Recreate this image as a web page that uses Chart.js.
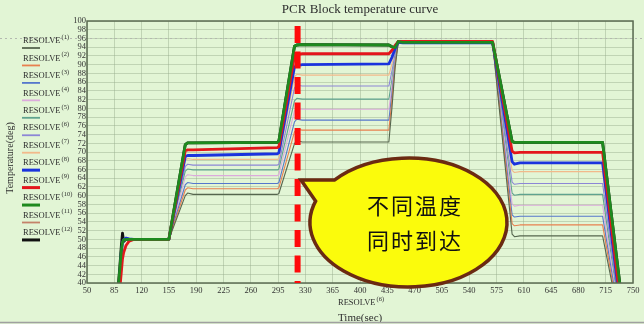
<!DOCTYPE html>
<html>
<head>
<meta charset="utf-8">
<script src="https://cdn.jsdelivr.net/npm/chart.js@4.4.0/dist/chart.umd.min.js"></script>
<style>
html, body { margin: 0; padding: 0; background: #e2f5d5; }
canvas { display: block; }
</style>
</head>
<body>
<canvas id="chart" width="644" height="324"></canvas>
<script>
// time points (sec) shared by every RESOLVE trace
const times = [89, 92, 94, 95.5, 97, 100, 104, 110, 155, 176, 179, 186, 294, 296, 316, 319, 326, 437, 441, 445, 449, 455, 570, 595, 598, 605, 711, 723, 733];

const resolve1 = [37, 42, 47.5, 49.8, 50.1, 50, 50, 50, 50, 60.0, 60.6, 60.3, 60.3, 60.5, 71.9, 72.6, 72.3, 72.3, 80.2, 89.3, 95.1, 95.0, 95.0, 51.2, 50.6, 50.8, 50.8, 40.0, 31.0];
const resolve2 = [37, 41.5, 47, 49.5, 50.0, 50, 50, 50, 50, 61.3, 61.8, 61.6, 61.6, 61.8, 74.6, 75.2, 75.0, 75.0, 82.0, 90.0, 95.1, 95.0, 95.0, 53.6, 53.1, 53.3, 53.3, 41.0, 30.8];
const resolve3 = [37, 41.5, 47, 49.3, 49.9, 50, 50, 50, 50, 62.5, 63.0, 62.8, 62.8, 63.0, 76.9, 77.5, 77.3, 77.3, 83.5, 90.6, 95.1, 95.0, 95.0, 55.6, 55.1, 55.3, 55.3, 42.2, 31.3];
const resolve4 = [37, 41, 46.5, 49.0, 49.7, 50, 50, 50, 50, 64.3, 64.8, 64.6, 64.6, 64.8, 79.4, 80.0, 79.8, 79.8, 85.1, 91.2, 95.1, 95.0, 95.0, 58.1, 57.6, 57.8, 57.8, 43.6, 31.7];
const resolve5 = [37, 41.5, 47, 49.5, 50.2, 50, 50, 50, 50, 65.6, 66.1, 65.9, 65.9, 66.1, 81.7, 82.3, 82.1, 82.1, 86.6, 91.8, 95.1, 95.0, 95.0, 60.6, 60.1, 60.3, 60.3, 45.1, 32.4];
const resolve6 = [37, 41, 46.5, 48.8, 49.6, 50, 50, 50, 50, 66.7, 67.2, 67.0, 67.0, 67.2, 84.7, 85.3, 85.1, 85.1, 88.6, 92.5, 95.1, 95.0, 95.0, 63.1, 62.6, 62.8, 62.8, 46.7, 33.3];
const resolve7 = [37, 41, 46.8, 49.2, 49.9, 50, 50, 50, 50, 68.0, 68.5, 68.3, 68.3, 68.5, 87.2, 87.8, 87.6, 87.6, 90.2, 93.2, 95.1, 95.0, 95.0, 65.8, 65.3, 65.5, 65.5, 48.5, 34.3];
const resolve8 = [37, 41.5, 47, 49.2, 49.9, 50.3, 50.1, 50, 50, 69.0, 69.2, 69.2, 69.6, 69.8, 89.5, 89.8, 90.0, 90.2, 91.7, 93.7, 95.1, 95.0, 95.0, 67.8, 67.2, 67.5, 67.5, 50.1, 35.6];
const resolve9 = [36, 38.5, 42.5, 45.5, 47.0, 48.6, 49.6, 50, 50, 70.3, 70.5, 70.5, 71.0, 71.2, 92.0, 92.3, 92.5, 92.5, 93.3, 94.4, 95.3, 95.3, 95.3, 70.2, 69.8, 69.9, 69.9, 52.0, 37.0];
const resolve10 = [37, 43, 47.5, 49.3, 49.9, 50.0, 50, 50, 50, 71.7, 72.1, 72.1, 72.2, 72.5, 94.2, 94.5, 94.6, 94.5, 94.1, 93.9, 95.3, 95.1, 95.1, 72.4, 72.2, 72.2, 72.2, 54.6, 40.0];
const resolve11 = [36, 38.5, 42.5, 45.5, 47.0, 48.6, 49.6, 50, 50, 70.3, 70.5, 70.5, 71.0, 71.2, 92.0, 92.3, 92.5, 92.5, 93.3, 94.4, 95.3, 95.3, 95.3, 70.2, 69.8, 69.9, 69.9, 52.0, 37.0];
const resolve12 = [37, 43.5, 48.5, 51.4, 49.5, 50.0, 50, 50, 50, 71.7, 72.1, 72.1, 72.2, 72.5, 94.2, 94.5, 94.6, 94.5, 94.1, 93.9, 95.3, 95.1, 95.1, 72.4, 72.2, 72.2, 72.2, 54.6, 40.0];

const seriesValues = [resolve1, resolve2, resolve3, resolve4, resolve5, resolve6,
                      resolve7, resolve8, resolve9, resolve10, resolve11, resolve12];
const seriesSup = ['(1)', '(2)', '(3)', '(4)', '(5)', '(6)', '(7)', '(8)', '(9)', '(10)', '(11)', '(12)'];
const seriesColors = ['#56664e', '#e8804f', '#5577cc', '#dcaadc', '#5fa38f', '#8c86d6',
                      '#f2b98a', '#1a33dd', '#e3161c', '#1e8a1e', '#c4826a', '#111111'];
const seriesThick = [false, false, false, false, false, false, false, true, true, true, false, true];
const seriesOrder = [5, 5, 5, 5, 5, 5, 5, 2, 1, 0, 6, 7];

const xTickValues = [50, 85, 120, 155, 190, 225, 260, 295, 330, 365, 400, 435, 470, 505, 540, 575, 610, 645, 680, 715, 750];
const yTickValues = [40, 42, 44, 46, 48, 50, 52, 54, 56, 58, 60, 62, 64, 66, 68, 70, 72, 74, 76, 78, 80, 82, 84, 86, 88, 90, 92, 94, 96, 98, 100];

const chartTitle = 'PCR Block temperature curve';
const yTitle = 'Temperature(deg)';
const xTitle = 'Time(sec)';
const xSubTitle = 'RESOLVE';
const xSubSup = '(6)';
const markerTime = 320;
const refTemp = 96;
const calloutLines = ['不同温度', '同时到达'];

const BG = '#e2f5d5';
const SERIF = '"Liberation Serif", "DejaVu Serif", serif';

const datasets = seriesValues.map((vals, i) => ({
    label: 'RESOLVE' + seriesSup[i],
    data: times.map((t, j) => ({ x: t, y: vals[j] })),
    borderColor: seriesColors[i],
    borderWidth: seriesThick[i] ? 2.8 : 1.1,
    order: seriesOrder[i],
    pointRadius: 0,
    tension: 0,
    fill: false
}));

const decorPlugin = {
    id: 'decor',
    beforeDraw(chart) {
        const ctx = chart.ctx;
        ctx.save();
        ctx.fillStyle = BG;
        ctx.fillRect(0, 0, chart.width, chart.height);
        ctx.restore();
    },
    beforeDatasetsDraw(chart) {
        const ctx = chart.ctx;
        const y = Math.round(chart.scales.y.getPixelForValue(refTemp)) + 0.5;
        ctx.save();
        ctx.strokeStyle = '#b4b8b0';
        ctx.lineWidth = 1;
        ctx.setLineDash([2, 3]);
        ctx.beginPath();
        ctx.moveTo(0, y);
        ctx.lineTo(chart.width, y);
        ctx.stroke();
        ctx.restore();
    },
    afterDatasetsDraw(chart) {
        const ctx = chart.ctx;
        const a = chart.chartArea;
        ctx.save();
        // plot frame
        ctx.strokeStyle = '#5b6b52';
        ctx.lineWidth = 1.5;
        ctx.strokeRect(a.left, a.top, a.right - a.left, a.bottom - a.top);

        // red dashed marker
        const mx = chart.scales.x.getPixelForValue(markerTime);
        ctx.beginPath();
        ctx.rect(a.left, a.top, a.right - a.left, a.bottom - a.top);
        ctx.clip();
        ctx.strokeStyle = '#ff0a0a';
        ctx.lineWidth = 6;
        ctx.setLineDash([17, 8.5]);
        ctx.beginPath();
        ctx.moveTo(mx, a.top + 5);
        ctx.lineTo(mx, a.bottom + 20);
        ctx.stroke();
        ctx.restore();

        // callout bubble
        ctx.save();
        const cx = 408.5, cy = 222.5, rx = 98.5, ry = 64.5;
        const a1 = 3.86, a2 = 3.48 + Math.PI * 2;
        ctx.beginPath();
        ctx.moveTo(301, 180);
        ctx.lineTo(cx + rx * Math.cos(a1), cy + ry * Math.sin(a1));
        ctx.ellipse(cx, cy, rx, ry, 0, a1, a2);
        ctx.closePath();
        ctx.fillStyle = '#fbfb0c';
        ctx.fill();
        ctx.strokeStyle = '#6b2a12';
        ctx.lineWidth = 3.5;
        ctx.stroke();
        ctx.fillStyle = '#111';
        ctx.font = '22px "Noto Sans CJK SC"';
        ctx.letterSpacing = '2px';
        ctx.textAlign = 'center';
        ctx.textBaseline = 'middle';
        ctx.fillText(calloutLines[0], 415, 206);
        ctx.fillText(calloutLines[1], 415, 241);
        ctx.restore();
    },
    afterDraw(chart) {
        const ctx = chart.ctx;
        ctx.save();
        ctx.fillStyle = '#2e2e2e';
        ctx.textBaseline = 'middle';

        // title
        ctx.font = '13px ' + SERIF;
        ctx.textAlign = 'center';
        ctx.fillText(chartTitle, 360, 10);

        // y title
        ctx.save();
        ctx.font = '10px ' + SERIF;
        ctx.translate(10, 158);
        ctx.rotate(-Math.PI / 2);
        ctx.fillText(yTitle, 0, 0);
        ctx.restore();

        // x titles
        ctx.textAlign = 'left';
        ctx.font = '8.5px ' + SERIF;
        ctx.fillText(xSubTitle, 338, 303);
        let w = ctx.measureText(xSubTitle).width;
        ctx.font = '6.5px ' + SERIF;
        ctx.fillText(xSubSup, 338 + w + 1, 299);
        ctx.font = '11px ' + SERIF;
        ctx.fillText(xTitle, 338, 318);

        // legend
        for (let i = 0; i < seriesValues.length; i++) {
            const y = 41 + i * 17.45;
            ctx.fillStyle = '#2e2e2e';
            ctx.font = '8.5px ' + SERIF;
            ctx.fillText('RESOLVE', 23, y);
            w = ctx.measureText('RESOLVE').width;
            ctx.font = '6.5px ' + SERIF;
            ctx.fillText(seriesSup[i], 23 + w + 1, y - 4);
            ctx.strokeStyle = seriesColors[i];
            ctx.lineWidth = seriesThick[i] ? 3 : 1.8;
            ctx.beginPath();
            ctx.moveTo(22, y + 7);
            ctx.lineTo(40, y + 7);
            ctx.stroke();
        }

        // bottom frame line
        ctx.strokeStyle = '#a0a0a0';
        ctx.lineWidth = 1.5;
        ctx.beginPath();
        ctx.moveTo(0, 322.5);
        ctx.lineTo(chart.width, 322.5);
        ctx.stroke();
        ctx.restore();
    }
};

const tickFont = { family: SERIF, size: 8.5 };

new Chart(document.getElementById('chart').getContext('2d'), {
    type: 'line',
    data: { datasets },
    options: {
        responsive: false,
        animation: false,
        devicePixelRatio: 1,
        layout: { padding: { left: 0, right: 11, top: 21, bottom: 0 } },
        plugins: {
            legend: { display: false },
            tooltip: { enabled: false },
            title: { display: false }
        },
        elements: {
            line: { borderJoinStyle: 'round' },
            point: { radius: 0 }
        },
        scales: {
            x: {
                type: 'linear',
                min: 50,
                max: 750,
                afterBuildTicks: (scale) => { scale.ticks = xTickValues.map(v => ({ value: v })); },
                afterFit: (scale) => { scale.height = 41; },
                grid: { color: 'rgba(150,172,140,0.45)', drawTicks: false },
                border: { display: false },
                ticks: { font: tickFont, color: '#333', padding: 3, maxRotation: 0, autoSkip: false }
            },
            y: {
                min: 40,
                max: 100,
                afterBuildTicks: (scale) => { scale.ticks = yTickValues.map(v => ({ value: v })); },
                afterFit: (scale) => { scale.width = 87; },
                grid: { color: 'rgba(150,172,140,0.45)', drawTicks: false },
                border: { display: false },
                ticks: { font: tickFont, color: '#333', padding: 1, autoSkip: false }
            }
        }
    },
    plugins: [decorPlugin]
});
</script>
</body>
</html>
